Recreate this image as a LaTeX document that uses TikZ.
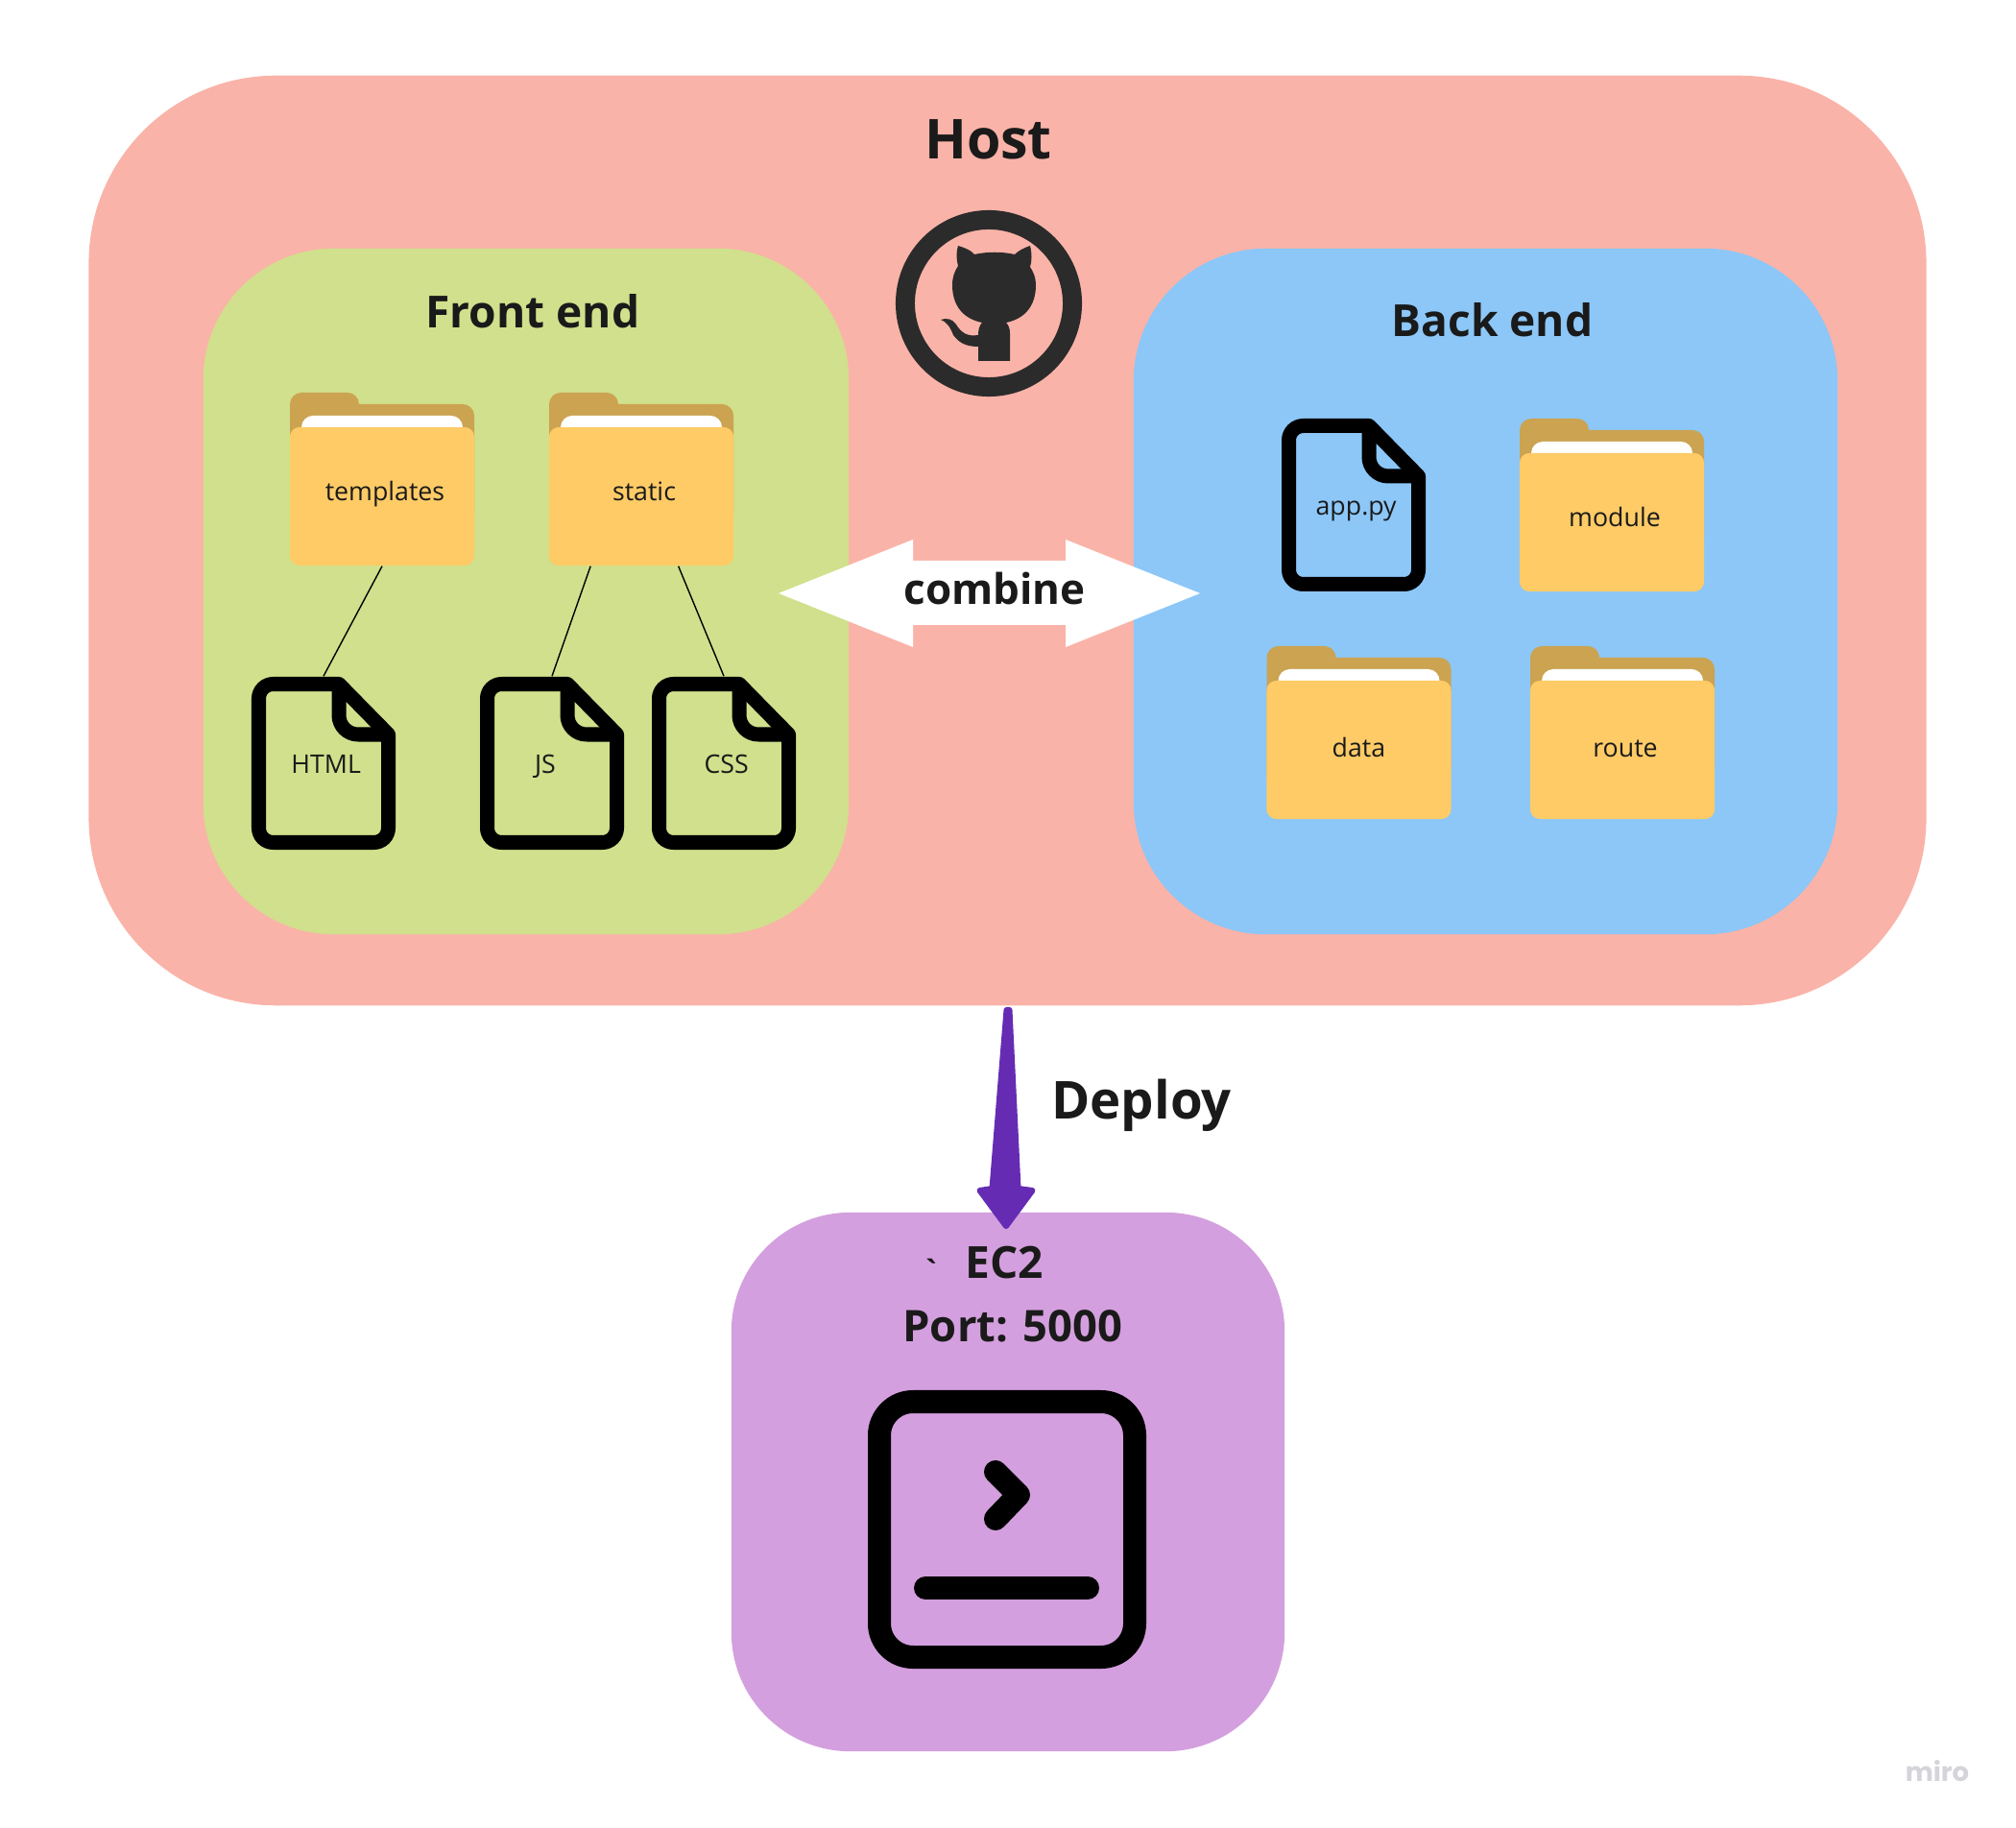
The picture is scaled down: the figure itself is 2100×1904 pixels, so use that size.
\documentclass[tikz,border=0pt]{standalone}
\usepackage{fontspec}
\setmainfont{Open Sans}
\newfontfamily\plainfont{Open Sans}
\newfontfamily\wordmark{Poppins}
\usepackage{tikz}
\usetikzlibrary{positioning,calc}
\definecolor{hostpink}{HTML}{FAB3A8}
\definecolor{frontgreen}{HTML}{D0E08C}
\definecolor{backblue}{HTML}{8CC7F8}
\definecolor{ecpurple}{HTML}{D49FDE}
\definecolor{foldfront}{HTML}{FECB66}
\definecolor{foldback}{HTML}{CBA351}
\definecolor{deploypurple}{HTML}{652CB3}
\definecolor{ink}{HTML}{1A1A1A}
\definecolor{octo}{HTML}{2B2B2B}
\definecolor{faint}{HTML}{D4D4DA}

\begin{document}
\begin{tikzpicture}[
  x=0.01cm,y=-0.01cm,
  box/.style={inner sep=0pt,align=center},
  title/.style={font=\bfseries\fontsize{13.1}{15}\selectfont,text=ink},
  bigtitle/.style={font=\bfseries\fontsize{16.3}{18}\selectfont,text=ink},
  folder/.style={box,fill=foldfront,rounded corners=1mm,minimum width=1.92cm,minimum height=1.44cm,
    font=\fontsize{7.6}{9}\selectfont,text=ink,text height=7.2pt,text depth=4.9pt,
    execute at begin node=\hspace*{1.7pt}},
  docbox/.style={box,minimum width=1.5cm,minimum height=1.8cm,font=\fontsize{7.6}{9}\selectfont,text=ink,
    text height=7.5pt,text depth=1.4pt,execute at begin node=\hspace*{1.5pt}},
  docline/.style={draw=black,line width=0.15cm,line join=round},
  termline/.style={draw=black,line width=0.24cm,line cap=round,line join=round},
  link/.style={draw=black,line width=0.4pt}]
\useasboundingbox[fill=white] (0,0) rectangle (2100,1904);
\node[box,fill=hostpink,minimum width=19.13cm,minimum height=9.68cm,rounded corners=1.95cm] (host) at (1049.5,563) {};
\node[box,fill=frontgreen,minimum width=6.72cm,minimum height=7.14cm,rounded corners=1.36cm] (front) at (548,616) {};
\node[box,fill=backblue,minimum width=7.33cm,minimum height=7.14cm,rounded corners=1.38cm] (back) at (1547.5,616) {};
\node[box,fill=ecpurple,minimum width=5.76cm,minimum height=5.61cm,rounded corners=1.24cm] (ec2) at (1050,1543.5) {};
\node[bigtitle] (hosttitle) at (1029.5,145) {Host};
\node[title] (fronttitle) at (555,324) {Front end};
\node[title] (backtitle) at (1554.5,333) {Back end};
% github mark
\node[box,draw=octo,line width=0.2cm,circle,minimum size=1.74cm] (github) at (1030,316) {};
\fill[octo] (998,256) .. controls (1005,258) and (1012,261) .. (1015,265)
  .. controls (1029,262) and (1043,262) .. (1057,265)
  .. controls (1061,261) and (1067,258) .. (1073,256)
  .. controls (1075,264) and (1075,272) .. (1073,278)
  .. controls (1077,284) and (1079,290) .. (1079,297)
  .. controls (1079,318) and (1068,332) .. (1048,336)
  .. controls (1051,339) and (1052,343) .. (1052,347)
  -- (1052,376) -- (1019,376) -- (1019,361)
  .. controls (1006,361) and (999,357) .. (993,349)
  .. controls (990,341) and (986,335) .. (980,333)
  .. controls (986,331) and (992,332) .. (996,338)
  .. controls (1001,346) and (1007,351) .. (1019,349)
  .. controls (1019,344) and (1020,339) .. (1023,336)
  .. controls (1003,332) and (992,318) .. (992,297)
  .. controls (992,289) and (994,283) .. (998,277)
  .. controls (996,270) and (996,262) .. (998,256) -- cycle;
% folders
\foreach \nm/\x/\y/\lbl in {templates/398/517/templates,static/668/517/static,module/1679/544/module,data/1415.5/781/\hspace*{-1.7pt}\raisebox{-1pt}{data},route/1690/781/\raisebox{-1pt}{route}}{
  \fill[foldback] (\x-96,\y+30) [rounded corners=1.2mm] -- (\x-96,\y-108) -- (\x-24,\y-108) [sharp corners] -- (\x-24,\y-96) [rounded corners=1.2mm] -- (\x+96,\y-96) -- (\x+96,\y+30) [sharp corners] -- cycle;
  \fill[white,rounded corners=1.2mm] (\x-84,\y) -- (\x-84,\y-84) -- (\x+84,\y-84) -- (\x+84,\y) -- cycle;
  \node[folder] (\nm) at (\x,\y) {\lbl};
}
% files
\foreach \nm/\x/\y/\lbl in {html/337/795/HTML,js/575/795/JS\hspace{5.5pt},css/754/795/CSS,app/1410/526/app.py}{
  \draw[docline] (\x+16,\y-82.5) [rounded corners=1.5mm] -- (\x-67.5,\y-82.5) -- (\x-67.5,\y+82.5) -- (\x+67.5,\y+82.5) [sharp corners] -- (\x+67.5,\y-30) -- cycle;
  \draw[docline] (\x+16,\y-82.5) [rounded corners=2mm] -- (\x+16,\y-30) [sharp corners] -- (\x+67.5,\y-30);
  \node[docbox] (\nm) at (\x,\y) {\lbl};
}
\draw[link] (templates.south) -- (html.north);
\draw[link] (static.234) -- (js.north);
\draw[link] (static.298) -- (css.north);
% combine arrow
\fill[white] (811,618) -- (951,562) -- (951,584) -- (1110,584) -- (1110,562) -- (1250,618) -- (1110,674) -- (1110,651) -- (951,651) -- (951,674) -- cycle;
\node[box,font=\bfseries\fontsize{12.5}{14}\selectfont,text=ink] (combine) at (1036,613) {combine};
% deploy
\fill[deploypurple,draw=deploypurple,line width=0.06cm,line join=round]
  ($(host.south)+(-1,4)$) -- ($(host.south)+(-16,190)$) -- ($(host.south)+(-29,192)$) -- ($(ec2.north)+(-2,15)$)
  -- ($(host.south)+(26,192)$) -- ($(host.south)+(11,190)$) -- ($(host.south)+(2,4)$) -- cycle;
\node[box,font=\bfseries\fontsize{15.5}{17}\selectfont,text=ink] (deploy) at (1189,1151) {Deploy};
\node[box,font=\plainfont\bfseries\fontsize{9}{11}\selectfont,text=ink] (tick) at (970,1323) {\symbol{96}};
\node[title] (eclabel) at (1046,1315) {EC2};
\node[title,font=\bfseries\fontsize{12.9}{15}\selectfont] (portlabel) at (1055,1381) {Port: 5000};
% terminal
\draw[termline,rounded corners=3.5mm] (916,1460) rectangle (1182,1726);
\draw[termline] (1037,1533) -- (1061,1557) -- (1037,1582);
\draw[termline] (964,1654) -- (1133,1654);
\node[box,font=\wordmark\bfseries\fontsize{7.8}{10}\selectfont,text=faint] (miro) at (2018,1845) {miro};
\end{tikzpicture}
\end{document}
